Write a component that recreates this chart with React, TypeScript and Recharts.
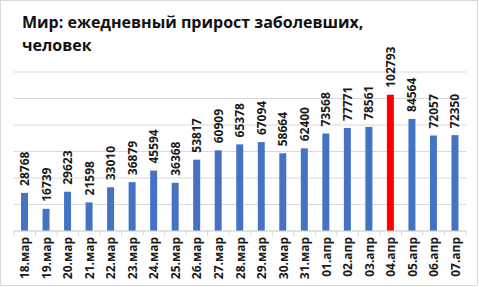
import React from 'react'
import { BarChart, Bar, XAxis, YAxis, CartesianGrid, Cell, LabelList } from 'recharts'

const days = [
  '18.мар', '19.мар', '20.мар', '21.мар', '22.мар', '23.мар', '24.мар',
  '25.мар', '26.мар', '27.мар', '28.мар', '29.мар', '30.мар', '31.мар',
  '01.апр', '02.апр', '03.апр', '04.апр', '05.апр', '06.апр', '07.апр',
]
const cases = [
  28768, 16739, 29623, 21598, 33010, 36879, 45594,
  36368, 53817, 60909, 65378, 67094, 58664, 62400,
  73568, 77771, 78561, 102793, 84564, 72057, 72350,
]
const peakDay = '04.апр'
const yTicks = [0, 20000, 40000, 60000, 80000, 100000, 120000]

const data = days.map((day, i) => ({ day, cases: cases[i] }))

const font = '"Open Sans", sans-serif'

const DayTick = (props: any) => {
  const { x, y, payload, index } = props
  const half = payload.offset || 0
  return (
    <g>
      <line x1={x - half} y1={y} x2={x - half} y2={y + 5} stroke="#d9d9d9" />
      {index === days.length - 1 && (
        <line x1={x + half} y1={y} x2={x + half} y2={y + 5} stroke="#d9d9d9" />
      )}
      <text
        x={x}
        y={y + 6}
        transform={`rotate(-90, ${x}, ${y + 6})`}
        textAnchor="end"
        dominantBaseline="central"
        fontFamily={font}
        fontWeight={700}
        fontSize={12}
        fill="#1a1a1a"
      >
        {payload.value}
      </text>
    </g>
  )
}

const ValueLabel = (props: any) => {
  const { x, y, width, value } = props
  const cx = x + width / 2
  const cy = y - 7
  return (
    <text
      x={cx}
      y={cy}
      transform={`rotate(-90, ${cx}, ${cy})`}
      textAnchor="start"
      dominantBaseline="central"
      fontFamily={font}
      fontWeight={700}
      fontSize={12}
      fill="#1a1a1a"
    >
      {value}
    </text>
  )
}

export default function App() {
  return (
    <div
      style={{
        position: 'fixed',
        left: 0,
        top: 0,
        width: 479,
        height: 287,
        background: '#fff',
      }}
    >
      <div
        style={{
          position: 'absolute',
          left: 0,
          top: 0,
          width: 476,
          height: 284,
          border: '1px solid #d9d9d9',
        }}
      />
      <div
        style={{
          position: 'absolute',
          left: 22,
          top: 11,
          fontFamily: font,
          fontWeight: 700,
          fontSize: 16,
          lineHeight: '23px',
          color: '#111',
        }}
      >
        Мир: ежедневный прирост заболевших,
        <br />
        человек
      </div>
      <BarChart
        width={479}
        height={287}
        data={data}
        margin={{ top: 72, right: 13, left: 14, bottom: 6 }}
      >
        <CartesianGrid vertical={false} stroke="#d9d9d9" />
        <YAxis hide domain={[0, 120000]} ticks={yTicks} />
        <XAxis
          dataKey="day"
          interval={0}
          height={50}
          tickSize={0}
          tickMargin={0}
          tickLine={false}
          axisLine={{ stroke: '#d9d9d9' }}
          tick={<DayTick />}
        />
        <Bar dataKey="cases" barSize={7} isAnimationActive={false}>
          {data.map((d) => (
            <Cell key={d.day} fill={d.day === peakDay ? '#ff0000' : '#4472c4'} />
          ))}
          <LabelList dataKey="cases" content={<ValueLabel />} />
        </Bar>
      </BarChart>
    </div>
  )
}
